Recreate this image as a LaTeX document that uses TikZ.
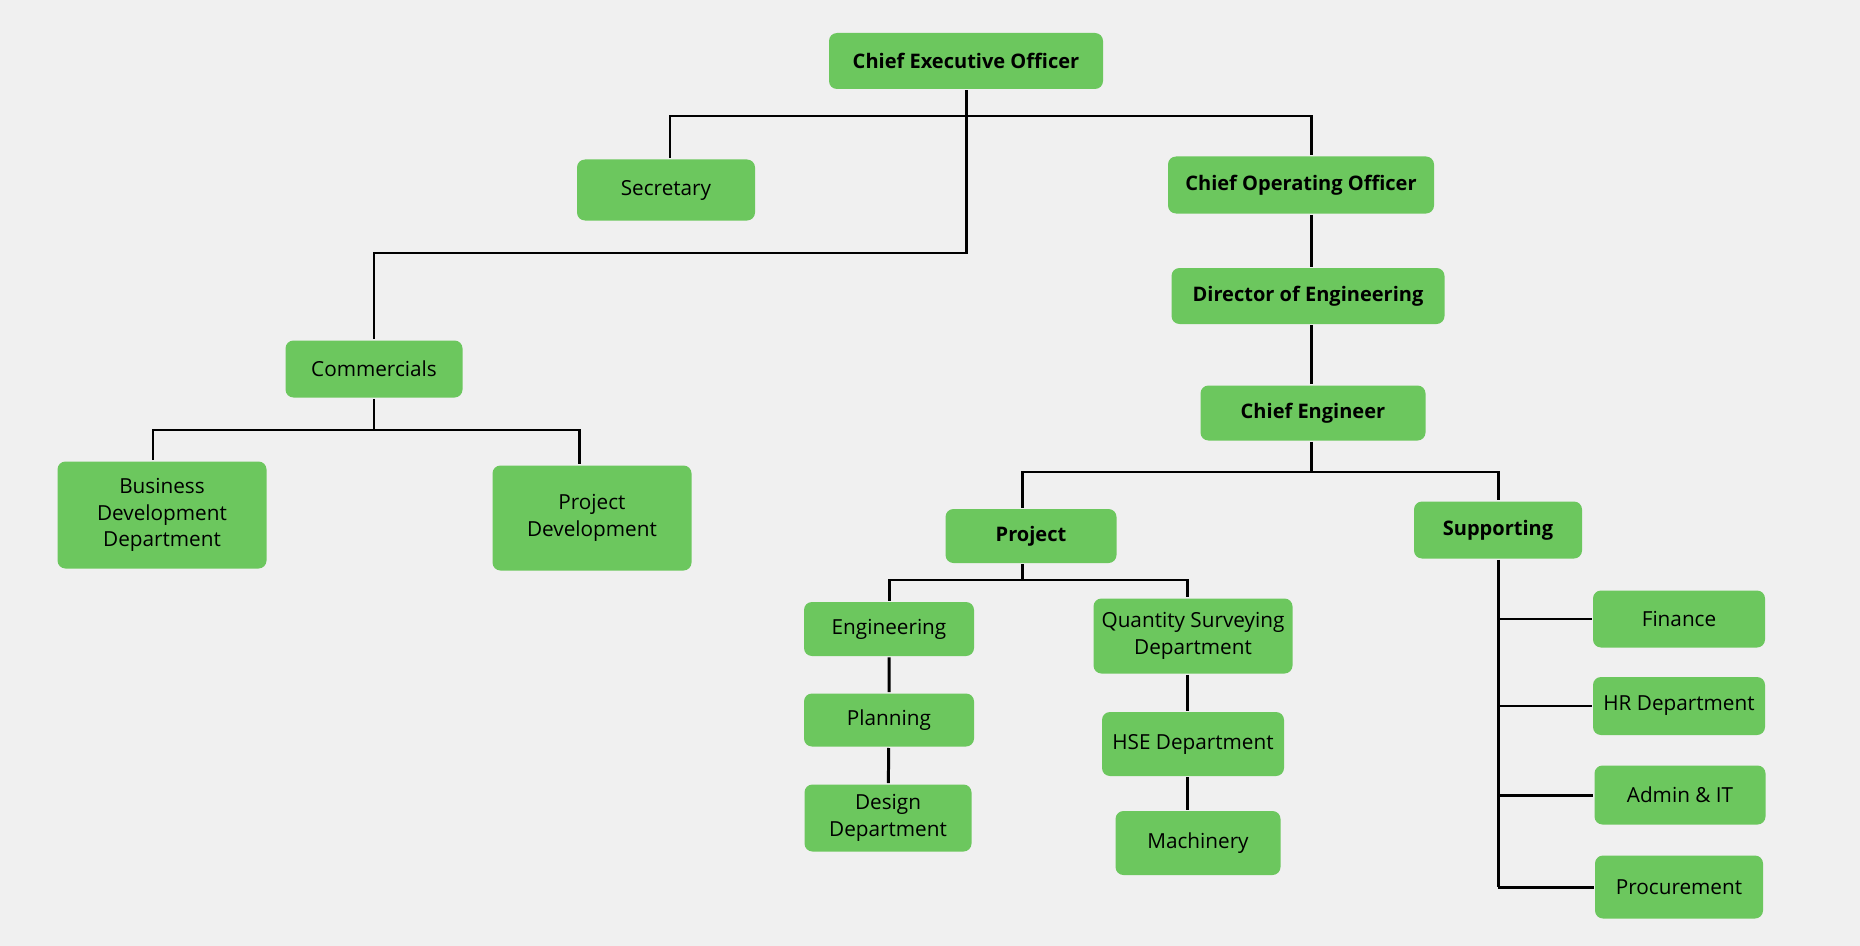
\documentclass[tikz,border=0pt]{standalone}
\usepackage{fontspec}
\setmainfont{Open Sans}
\usetikzlibrary{positioning,calc}
\definecolor{boxgreen}{HTML}{6CC75E}
\definecolor{paper}{HTML}{F0F0F0}
\tikzset{unit/.style={
		% The shape:
		rectangle,rounded corners=1.6mm,
		% The filling:
		fill=boxgreen,draw=none,
		% The text:
		text=black,align=center,
		font=\fontsize{11.8}{15}\selectfont,
		inner sep=0pt,
}}
\tikzset{headunit/.style={
		unit,
		% heads are set in bold
		font=\fontsize{11.4}{15}\selectfont\bfseries,
}}
\tikzset{boxsize/.style 2 args={minimum width=#1*0.02cm,minimum height=#2*0.02cm}}

\begin{document}
\begin{tikzpicture}[x=0.02cm,y=-0.02cm,line width=1.7pt,black]
	\fill[paper] (0,0) rectangle (1860,946);
	% top of the chart
	\node[headunit,boxsize={274}{56}] (ceo) at (966,61) {Chief Executive Officer};
	\node[unit,boxsize={178}{61}] (sec) at (666,190) {Secretary};
	\node[headunit,boxsize={266}{57}] (coo) at (1301,185) {Chief Operating Officer};
	\node[headunit,boxsize={273}{56}] (doe) at (1308,296) {Director of Engineering};
	\node[headunit,boxsize={225}{55}] (ce) at (1313,413) {Chief Engineer};
	% commercial side
	\node[unit,boxsize={177}{57}] (com) at (374,369) {Commercials};
	\node[unit,boxsize={209}{107}] (bdd) at (162,515) {Business\\Development\\Department};
	\node[unit,boxsize={199}{105}] (pd) at (592,518) {Project\\Development};
	% engineering side
	\node[headunit,boxsize={171}{54}] (proj) at (1031,536) {Project};
	\node[headunit,boxsize={168}{57}] (supp) at (1498,530) {Supporting};
	\node[unit,boxsize={170}{54}] (eng) at (889,629) {Engineering};
	\node[unit,boxsize={170}{53}] (plan) at (889,720) {Planning};
	\node[unit,boxsize={167}{67}] (des) at (888,818) {Design\\Department};
	\node[unit,boxsize={199}{75}] (qs) at (1193,636) {Quantity Surveying\\Department};
	\node[unit,boxsize={182}{64}] (hse) at (1193,744) {HSE Department};
	\node[unit,boxsize={165}{64}] (mach) at (1198,843) {Machinery};
	\node[unit,boxsize={172}{57}] (fin) at (1679,619) {Finance};
	\node[unit,boxsize={172}{58}] (hr) at (1679,706) {HR Department};
	\node[unit,boxsize={171}{59}] (adm) at (1680,795) {Admin \& IT};
	\node[unit,boxsize={168}{63}] (proc) at (1679,887) {Procurement};
	% connectors
	\coordinate (spine) at (1311,116);
	\coordinate (qsline) at (1187,580);
	\draw (ceo.south) -- (ceo.south |- 0,253) -| (com.north);
	\draw ([xshift=0.08cm]sec.north) |- (spine) -- (spine |- coo.north);
	\draw (spine |- coo.south) -- (spine |- doe.north);
	\draw (spine |- doe.south) -- (spine |- ce.north);
	\draw (com.south) -- (com.south |- 0,430);
	\draw ([xshift=-0.18cm]bdd.north) |- ([xshift=-0.26cm]pd.north |- 0,430) -- ([xshift=-0.26cm]pd.north);
	\draw (spine |- ce.south) -- (spine |- 0,472);
	\draw ([xshift=-0.18cm]proj.north) |- (supp.north |- 0,472) -- (supp.north);
	\draw ([xshift=-0.18cm]proj.south) -- ([xshift=-0.18cm]proj.south |- qsline);
	\draw (eng.north) |- (qsline) -- (qsline |- qs.north);
	\draw (eng) -- (plan) -- (des);
	\draw (qsline |- qs.south) -- (qsline |- hse.north);
	\draw (qsline |- hse.south) -- (qsline |- mach.north);
	\draw (supp.south) -- (supp.south |- proc.west);
	\foreach \dept in {fin,hr,adm,proc}
		\draw (supp.south |- \dept.west) -- (\dept.west);
\end{tikzpicture}
\end{document}
